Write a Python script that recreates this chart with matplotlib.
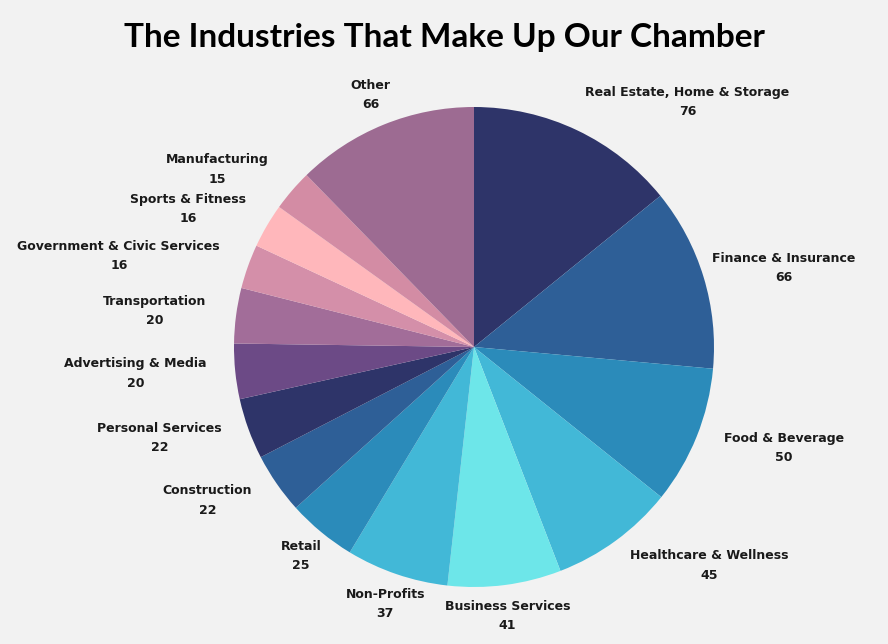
import matplotlib
matplotlib.use("Agg")
import matplotlib.pyplot as plt

# chart data
industries = ["Real Estate, Home & Storage", "Finance & Insurance", "Food & Beverage",
              "Healthcare & Wellness", "Business Services", "Non-Profits", "Retail",
              "Construction", "Personal Services", "Advertising & Media", "Transportation",
              "Government & Civic Services", "Sports & Fitness", "Manufacturing", "Other"]
counts = [76, 66, 50, 45, 41, 37, 25, 22, 22, 20, 20, 16, 16, 15, 66]

colors = ["#2e3469", "#2e5f97", "#2b8bba", "#42b8d7", "#6de6e9", "#42b8d7", "#2b8bba",
          "#2e5f97", "#2e3469", "#6c4a86", "#a26d99", "#d48fa9", "#ffb7bb", "#d38ca4", "#9d6b92"]

# label centres (in pie-radius units), placed like the original best-fit layout
label_xy = [(0.89, 1.02), (1.29, 0.33), (1.29, -0.42), (0.98, -0.91), (0.14, -1.12),
            (-0.37, -1.07), (-0.72, -0.87), (-1.11, -0.64), (-1.31, -0.38), (-1.41, -0.11),
            (-1.33, 0.15), (-1.48, 0.38), (-1.19, 0.575), (-1.07, 0.74), (-0.43, 1.05)]

bg = "#f2f2f2"
fig = plt.figure(figsize=(8.88, 6.44), dpi=100, facecolor=bg)
ax = fig.add_axes([0, 0, 1, 1])
ax.set_facecolor(bg)

ax.pie(counts, colors=colors, startangle=90, counterclock=False,
       radius=1.0, wedgeprops=dict(linewidth=0))

for name, n, (x, y) in zip(industries, counts, label_xy):
    ax.text(x, y, f"{name}\n{n}", ha="center", va="center", fontsize=9,
            fontweight="bold", color="#1a1a1a", linespacing=1.65, family="DejaVu Sans")

# pie centre at (474, 347) px, radius 240 px
ax.set_aspect("auto")
ax.set_xlim(-474 / 240, (888 - 474) / 240)
ax.set_ylim((347 - 644) / 240, 347 / 240)
ax.axis("off")

fig.text(0.5, 1 - 37 / 644, "The Industries That Make Up Our Chamber", ha="center",
         va="center", fontsize=24, fontweight="bold", family="Lato", color="black")

fig.savefig("out.png", dpi=100, facecolor=bg)
